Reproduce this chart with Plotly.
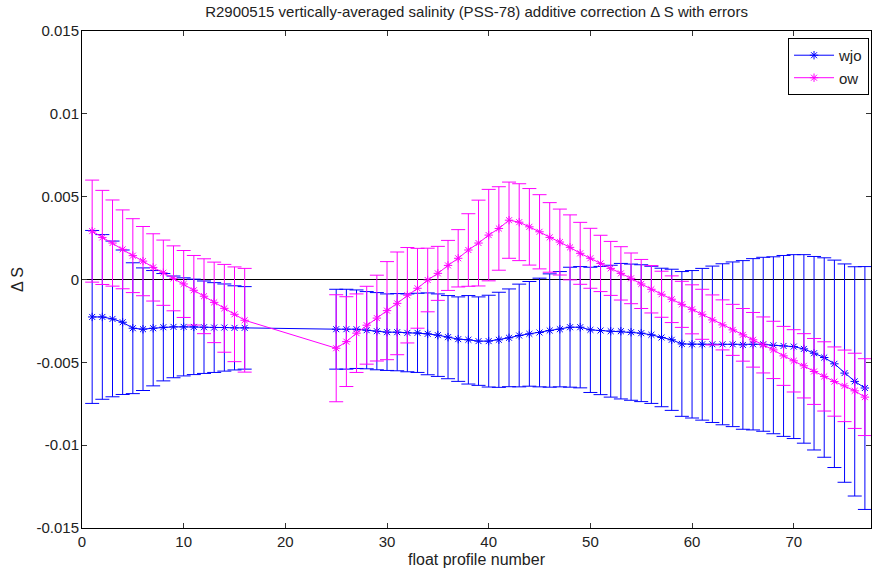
import plotly.graph_objects as go

# float profile numbers (gap between 16 and 25)
profile = list(range(1, 17)) + list(range(25, 78))

wjo_dS = [
    -0.00226, -0.00226, -0.00238, -0.00258, -0.00294, -0.00300, -0.00294, -0.00288,
    -0.00286, -0.00286, -0.00286, -0.00288, -0.00290, -0.00290, -0.00292, -0.00292,
    -0.00300, -0.00300, -0.00300, -0.00306, -0.00312, -0.00318, -0.00318, -0.00322, -0.00322, -0.00328,
    -0.00336, -0.00348, -0.00360, -0.00364, -0.00372, -0.00372, -0.00364, -0.00352, -0.00338, -0.00328,
    -0.00320, -0.00308, -0.00300, -0.00288, -0.00288, -0.00304, -0.00308, -0.00312, -0.00312, -0.00318,
    -0.00324, -0.00334, -0.00350, -0.00364, -0.00389, -0.00391, -0.00391, -0.00391, -0.00391, -0.00391,
    -0.00395, -0.00391, -0.00391, -0.00397, -0.00401, -0.00405, -0.00419, -0.00445, -0.00471, -0.00509,
    -0.00565, -0.00615, -0.00655,
]
wjo_err = [
    0.00522, 0.00497, 0.00470, 0.00436, 0.00395, 0.00370, 0.00348, 0.00324,
    0.00307, 0.00296, 0.00288, 0.00279, 0.00271, 0.00263, 0.00254, 0.00249,
    0.00241, 0.00241, 0.00237, 0.00233, 0.00233, 0.00231, 0.00233, 0.00235, 0.00239, 0.00247,
    0.00249, 0.00251, 0.00255, 0.00267, 0.00267, 0.00277, 0.00287, 0.00295, 0.00310, 0.00316,
    0.00328, 0.00342, 0.00348, 0.00362, 0.00366, 0.00378, 0.00387, 0.00398, 0.00409, 0.00411,
    0.00413, 0.00414, 0.00418, 0.00426, 0.00437, 0.00445, 0.00458, 0.00472, 0.00486, 0.00497,
    0.00509, 0.00517, 0.00525, 0.00534, 0.00546, 0.00555, 0.00569, 0.00584, 0.00602, 0.00626,
    0.00659, 0.00692, 0.00733,
]
ow_dS = [
    0.00292, 0.00254, 0.00220, 0.00182, 0.00144, 0.00111, 0.00073, 0.00041,
    0.00007, -0.00027, -0.00065, -0.00101, -0.00138, -0.00174, -0.00210, -0.00246,
    -0.00415, -0.00375, -0.00324, -0.00276, -0.00233, -0.00188, -0.00144, -0.00095, -0.00053, -0.00003,
    0.00037, 0.00085, 0.00128, 0.00178, 0.00220, 0.00268, 0.00308, 0.00358, 0.00346, 0.00318,
    0.00288, 0.00254, 0.00226, 0.00194, 0.00158, 0.00128, 0.00097, 0.00067, 0.00037, 0.00007,
    -0.00027, -0.00059, -0.00089, -0.00119, -0.00150, -0.00180, -0.00210, -0.00244, -0.00274, -0.00304,
    -0.00334, -0.00364, -0.00395, -0.00425, -0.00461, -0.00491, -0.00521, -0.00555, -0.00585, -0.00616,
    -0.00642, -0.00672, -0.00710,
]
ow_err = [
    0.00308, 0.00284, 0.00260, 0.00238, 0.00223, 0.00209, 0.00203, 0.00197,
    0.00196, 0.00202, 0.00210, 0.00226, 0.00243, 0.00265, 0.00286, 0.00313,
    0.00323, 0.00271, 0.00237, 0.00235, 0.00259, 0.00296, 0.00310, 0.00288, 0.00241, 0.00192,
    0.00163, 0.00151, 0.00173, 0.00219, 0.00259, 0.00276, 0.00252, 0.00230, 0.00232, 0.00231,
    0.00224, 0.00210, 0.00199, 0.00196, 0.00187, 0.00181, 0.00170, 0.00163, 0.00161, 0.00153,
    0.00148, 0.00143, 0.00139, 0.00141, 0.00139, 0.00148, 0.00151, 0.00151, 0.00151, 0.00154,
    0.00159, 0.00165, 0.00169, 0.00173, 0.00178, 0.00188, 0.00194, 0.00199, 0.00209, 0.00209,
    0.00216, 0.00227, 0.00232,
]

x_ticks = [0, 10, 20, 30, 40, 50, 60, 70]
y_ticks = [-0.015, -0.01, -0.005, 0, 0.005, 0.01, 0.015]
y_ticktext = ["-0.015", "-0.01", "-0.005", "0", "0.005", "0.01", "0.015"]

FONT = "Liberation Sans, Arial, sans-serif"
BLUE = "#0000FF"
MAGENTA = "#FF00FF"

fig = go.Figure()
for name, yv, ev, col in [("wjo", wjo_dS, wjo_err, BLUE), ("ow", ow_dS, ow_err, MAGENTA)]:
    fig.add_trace(go.Scatter(
        x=profile, y=yv, name=name, mode="lines+markers",
        line=dict(color=col, width=1),
        marker=dict(symbol="asterisk-open", size=7, color=col, line=dict(color=col, width=1)),
        error_y=dict(type="data", array=ev, visible=True, color=col, thickness=1, width=7),
    ))

fig.update_layout(
    width=872, height=574,
    margin=dict(l=82, r=1, t=31, b=46, autoexpand=False),
    paper_bgcolor="white", plot_bgcolor="white",
    font=dict(family=FONT, size=15, color="#222"),
    title=dict(text="R2900515 vertically-averaged salinity (PSS-78) additive correction \u0394 S with errors",
               x=0.5465, xanchor="center", yref="container", y=0.988, yanchor="top",
               font=dict(family=FONT, size=15, color="#222")),
    showlegend=True,
    legend=dict(x=0.9975, xanchor="right", y=0.986, yanchor="top",
                bgcolor="white", bordercolor="black", borderwidth=1,
                font=dict(family=FONT, size=15, color="#222"), tracegroupgap=0, itemwidth=40),
    xaxis=dict(range=[0, 77.6], tickvals=x_ticks, ticks="inside", ticklen=5, tickcolor="#333",
               showline=True, linecolor="black", linewidth=1, mirror="ticks",
               showgrid=False, zeroline=False, automargin=False,
               tickfont=dict(family=FONT, size=15, color="#222"),
               title=dict(text="float profile number", standoff=4,
                          font=dict(family=FONT, size=16, color="#222"))),
    yaxis=dict(range=[-0.015, 0.015], tickvals=y_ticks, ticktext=y_ticktext,
               ticks="inside", ticklen=5, tickcolor="#333", ticklabelstandoff=-1,
               showline=True, linecolor="black", linewidth=1, mirror="ticks",
               showgrid=False, zeroline=True, zerolinecolor="black", zerolinewidth=1,
               automargin=False,
               tickfont=dict(family=FONT, size=15, color="#222"),
               title=dict(text="\u0394 S", standoff=8,
                          font=dict(family=FONT, size=16, color="#222"))),
)

fig.write_html("out.html", config={"displayModeBar": False},
               post_script="document.body.style.margin='0';")
